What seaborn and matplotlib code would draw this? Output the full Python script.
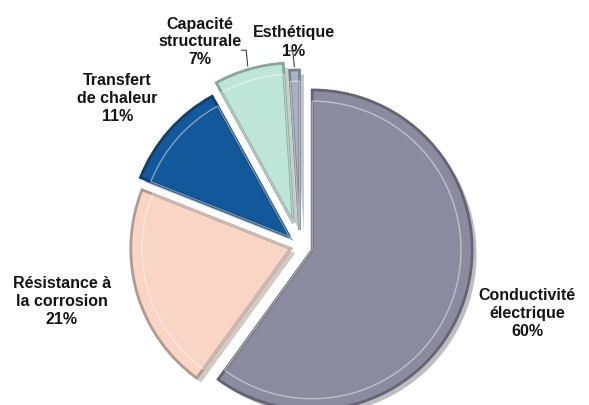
import numpy as np
import matplotlib.pyplot as plt
import matplotlib.colors as mcolors
import seaborn as sns

sns.set_theme(style="white")
plt.rcParams['font.family'] = ['Liberation Sans', 'DejaVu Sans']

# data
categories = ["Conductivité\nélectrique", "Résistance à\nla corrosion", "Transfert\nde chaleur",
              "Capacité\nstructurale", "Esthétique"]
shares = [60, 21, 11, 7, 1]
colors = ["#8b8ba0", "#f9d5c6", "#13589a", "#bde6d8", "#a8b3c2"]
explode = [0.08, 0.06, 0.09, 0.15, 0.10]

# label placement (data units, pie radius = 1)
label_pos = [(1.42, -0.42), (-1.49, -0.35), (-1.14, 0.92), (-0.625, 1.275), (-0.04, 1.275)]
has_leader = [False, False, False, True, True]

fig = plt.figure(figsize=(5.89, 4.05), dpi=100)
ax = fig.add_axes([0, 0, 1, 1])

wedges, _ = ax.pie(shares, colors=colors, explode=explode, startangle=90,
                   counterclock=False,
                   shadow={'ox': 0.02, 'oy': -0.02, 'shade': 0.5, 'alpha': 0.35},
                   wedgeprops=dict(linewidth=0))

# bevel look: darker outline plus a faint lighter inner outline
for w, c in zip(wedges, colors):
    rgb = np.array(mcolors.to_rgb(c))
    w.set_edgecolor(rgb * 0.72)
    w.set_linewidth(2.0)

ax.pie(shares, explode=explode, startangle=90, counterclock=False, radius=0.93,
       colors=["none"] * len(shares),
       wedgeprops=dict(edgecolor=(1, 1, 1, 0.45), linewidth=1.0, fill=False))

for i, (lab, val) in enumerate(zip(categories, shares)):
    x, y = label_pos[i]
    ax.text(x, y, f"{lab}\n{val}%", ha="center", va="center", fontsize=11.5,
            fontweight="bold", color="#141414", linespacing=1.25)

# leader lines for the small slices
for i, w in enumerate(wedges):
    if not has_leader[i]:
        continue
    ang = np.deg2rad((w.theta1 + w.theta2) / 2)
    cx, cy = w.center
    x0, y0 = cx + 1.02 * np.cos(ang), cy + 1.02 * np.sin(ang)
    ax.plot([x0, x0 - 0.01, x0 - 0.04], [y0, y0 + 0.1, y0 + 0.1], color="#444444", lw=0.8)

ax.set_aspect("equal")
ax.set_xlim(-300 / 160, (589 - 300) / 160)
ax.set_ylim(-(405 - 246) / 160, 246 / 160)
ax.axis("off")

fig.savefig("out.png", dpi=100)
